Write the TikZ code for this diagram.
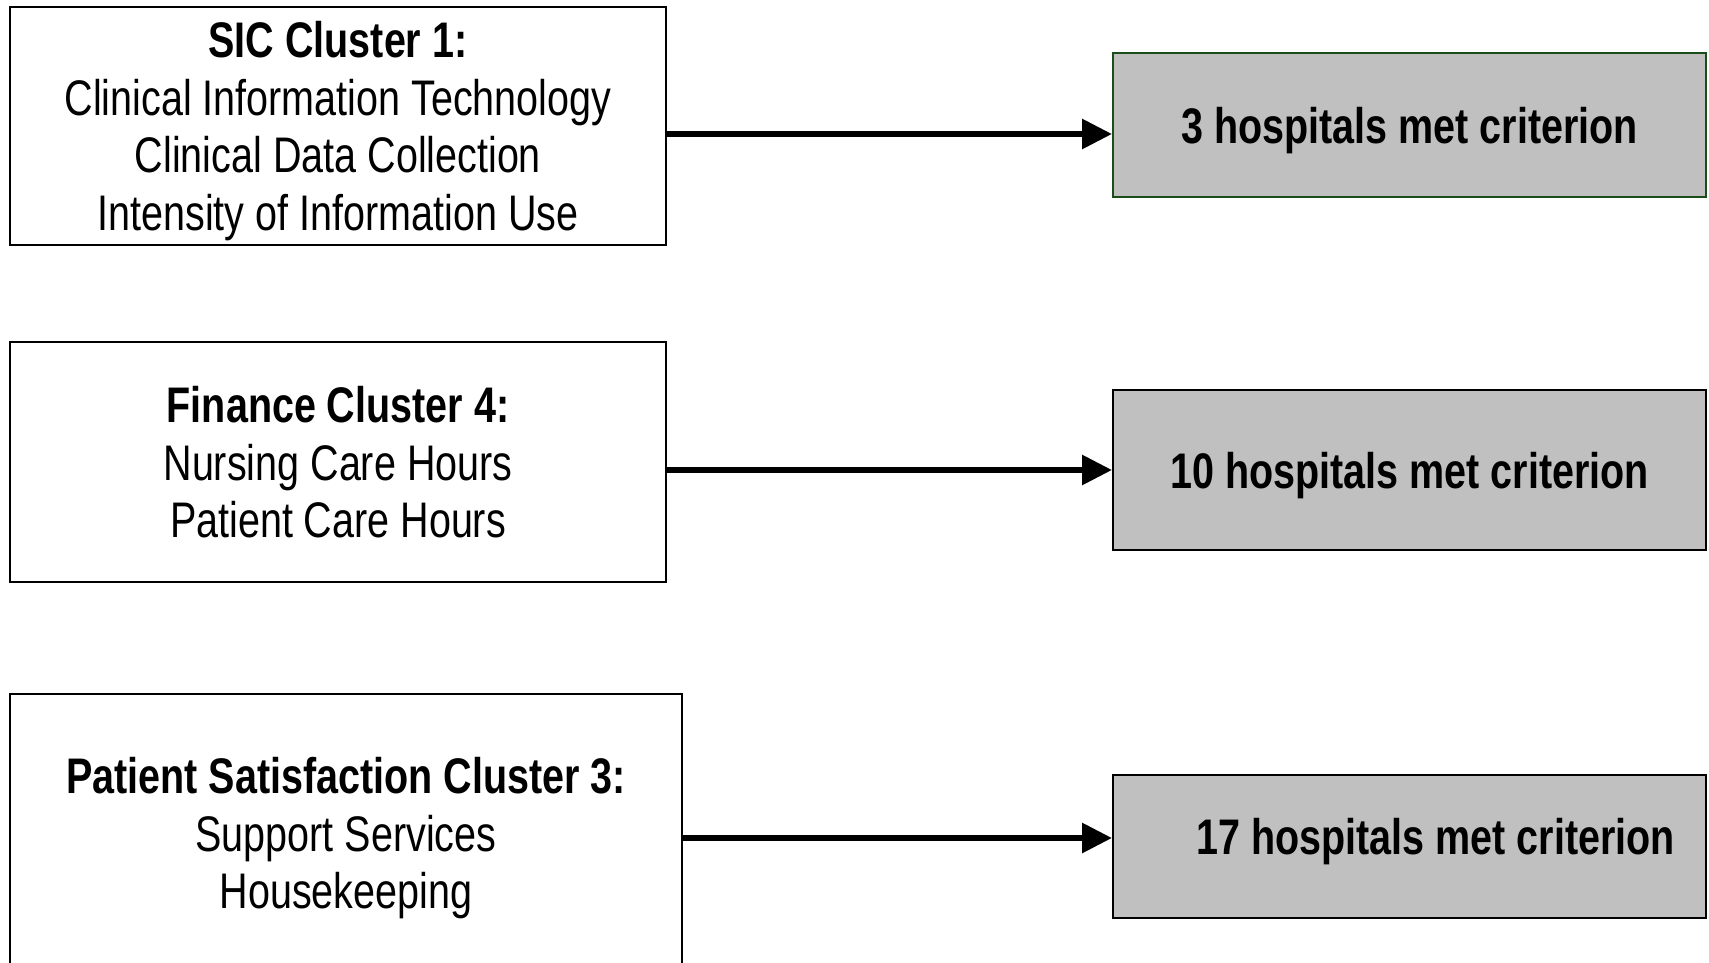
\documentclass[tikz,border=0pt]{standalone}
\usepackage{fontspec}
\setmainfont[FakeStretch=0.79]{Liberation Sans}
\usetikzlibrary{arrows.meta}
\definecolor{boxgray}{HTML}{C0C0C0}
\definecolor{darkgreen}{HTML}{1B4D1B}
\tikzset{
  leftbox/.style={draw=black, line width=2pt, fill=white, inner sep=0pt, align=center,
    text depth=0pt, font=\fontsize{50}{57.5}\selectfont},
  rightbox/.style={draw=black, line width=2pt, fill=boxgray, inner sep=0pt, align=center,
    text depth=-3pt, minimum width=593pt, font=\bfseries\fontsize{50}{57.5}\selectfont},
  txt/.style={inner sep=0pt, align=center, font=\fontsize{50}{57.5}\selectfont},
  conn/.style={line width=6pt, -{Triangle[length=30pt, width=29pt]}}
}
\begin{document}
\begin{tikzpicture}[x=1pt, y=-1pt]
\useasboundingbox (0,0) rectangle (1709,963);
% left boxes
\node[leftbox, minimum width=656pt, minimum height=238pt] (L1) at (338,126)
  {\textbf{SIC Cluster 1:}\\Clinical Information Technology\\Clinical Data Collection\\Intensity of Information Use};
\node[leftbox, minimum width=656pt, minimum height=240pt] (L2) at (338,462)
  {\textbf{Finance Cluster 4:}\\Nursing Care Hours\\Patient Care Hours};
\node[leftbox, minimum width=672pt, minimum height=278pt] (L3) at (346,833)
  {\textbf{Patient Satisfaction Cluster 3:}\\Support Services\\Housekeeping};
% right boxes
\node[rightbox, draw=darkgreen, minimum height=144pt] (R1) at (1409.5,125)
  {3 hospitals met criterion};
\node[rightbox, minimum height=160pt] (R2) at (1409.5,470)
  {10 hospitals met criterion};
\node[rightbox, minimum height=143pt] (R3) at (1409.5,846.5) {};
\node[txt, text depth=0pt, font=\bfseries\fontsize{50}{57.5}\selectfont] (T3) at (1435.5,836)
  {17 hospitals met criterion};
% connectors
\coordinate (a1) at (0,134);
\coordinate (a2) at (0,470);
\coordinate (a3) at (0,838);
\draw[conn] (L1.east |- a1) -- (R1.west |- a1);
\draw[conn] (L2.east |- a2) -- (R2.west |- a2);
\draw[conn] (L3.east |- a3) -- (R3.west |- a3);
\end{tikzpicture}
\end{document}
